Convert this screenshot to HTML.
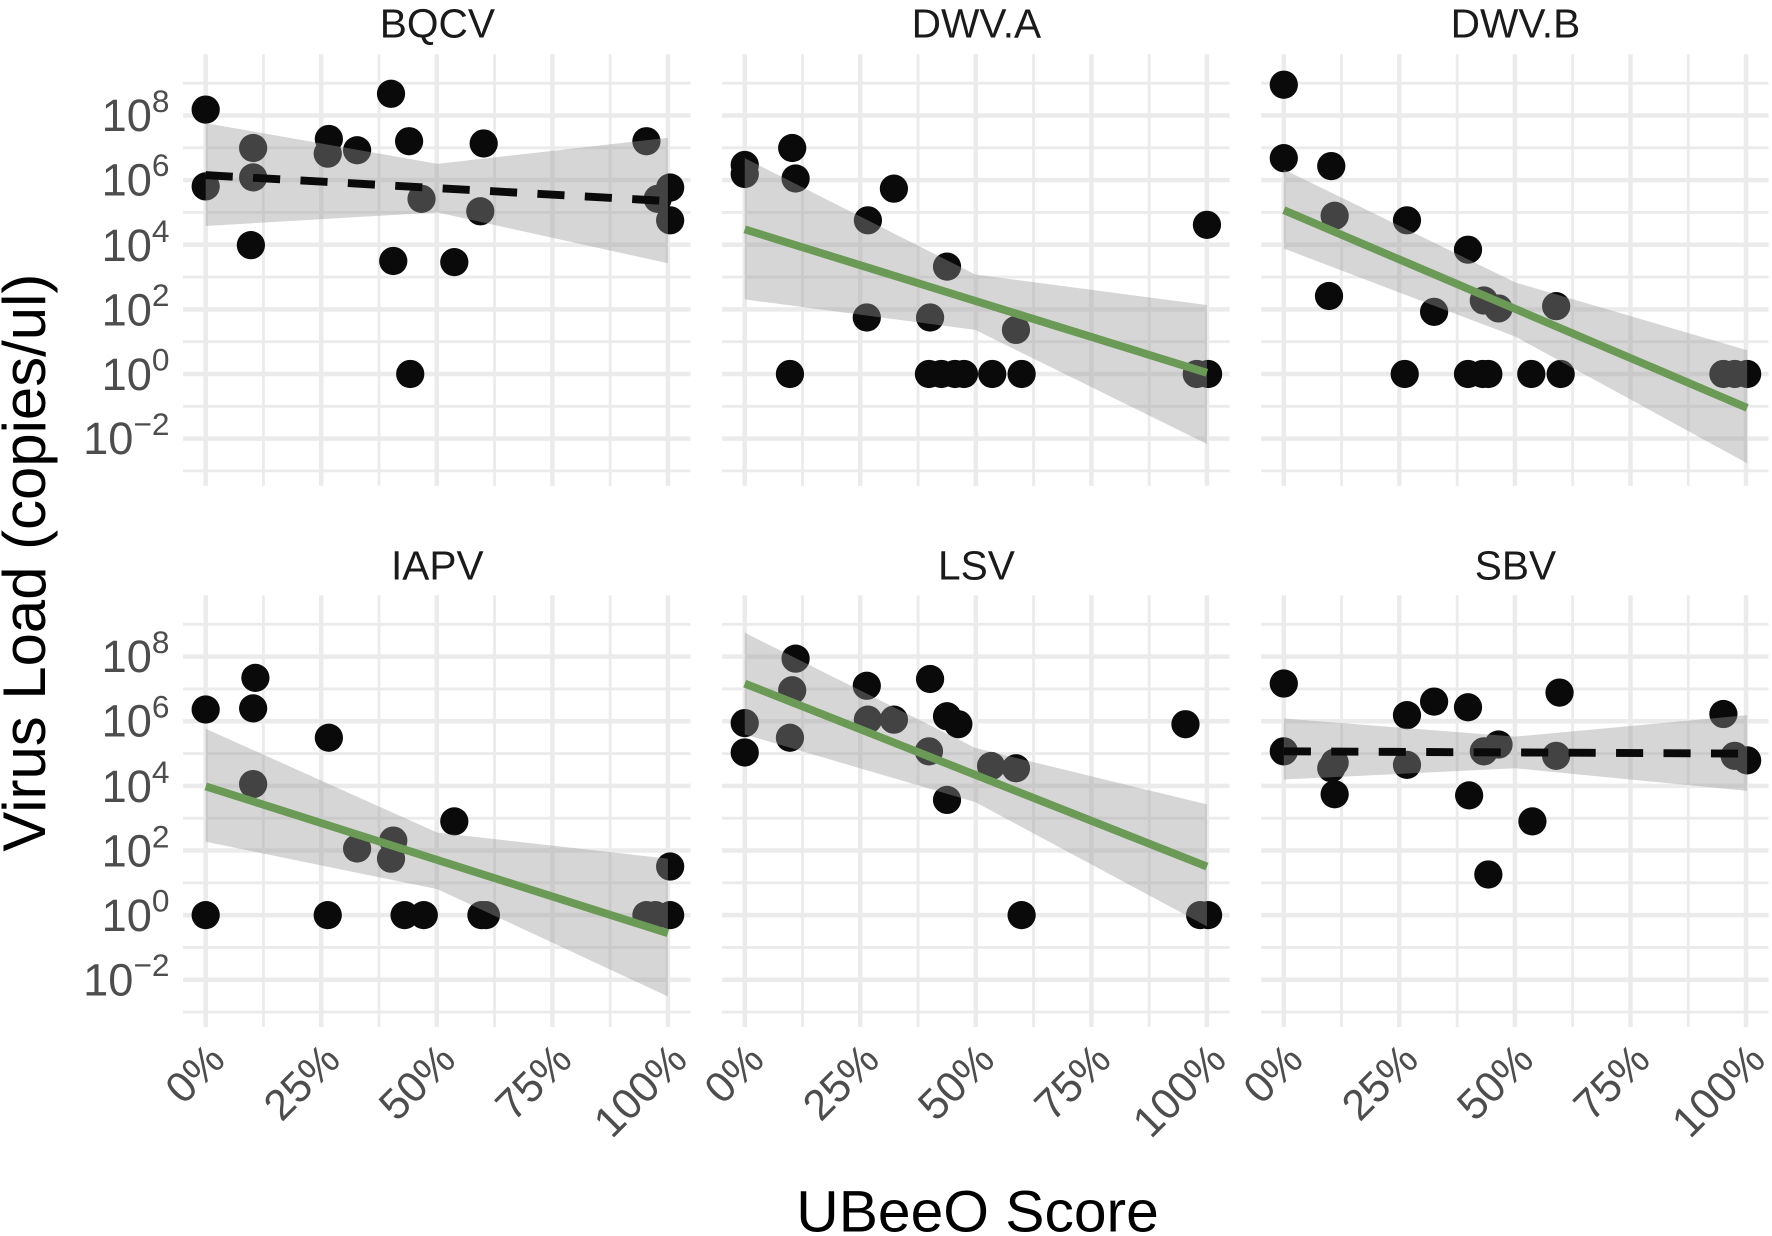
<!DOCTYPE html>
<html><head><meta charset="utf-8"><style>
html,body{margin:0;padding:0;background:#fff;}
svg{display:block;}
text{font-family:"Liberation Sans",Arial,sans-serif;}
</style></head><body>
<svg width="1772" height="1236" viewBox="0 0 1568 1094" preserveAspectRatio="none" xmlns="http://www.w3.org/2000/svg">
<defs>
<g id="grid" stroke="#ebebeb" fill="none">
<g stroke-width="2.5">
<line x1="51.1" y1="-283" x2="51.1" y2="99"/><line x1="153.4" y1="-283" x2="153.4" y2="99"/>
<line x1="255.6" y1="-283" x2="255.6" y2="99"/><line x1="357.9" y1="-283" x2="357.9" y2="99"/>
<line x1="-20" y1="85.8" x2="429" y2="85.8"/><line x1="-20" y1="28.6" x2="429" y2="28.6"/>
<line x1="-20" y1="-28.6" x2="429" y2="-28.6"/><line x1="-20" y1="-85.8" x2="429" y2="-85.8"/>
<line x1="-20" y1="-143" x2="429" y2="-143"/><line x1="-20" y1="-200.2" x2="429" y2="-200.2"/>
<line x1="-20" y1="-257.4" x2="429" y2="-257.4"/>
</g>
<g stroke-width="4">
<line x1="0" y1="-283" x2="0" y2="99"/><line x1="102.2" y1="-283" x2="102.2" y2="99"/>
<line x1="204.5" y1="-283" x2="204.5" y2="99"/><line x1="306.8" y1="-283" x2="306.8" y2="99"/>
<line x1="409" y1="-283" x2="409" y2="99"/>
<line x1="-20" y1="57.2" x2="429" y2="57.2"/><line x1="-20" y1="0" x2="429" y2="0"/>
<line x1="-20" y1="-57.2" x2="429" y2="-57.2"/><line x1="-20" y1="-114.4" x2="429" y2="-114.4"/>
<line x1="-20" y1="-171.6" x2="429" y2="-171.6"/><line x1="-20" y1="-228.8" x2="429" y2="-228.8"/>
</g>
</g>
</defs>

<use href="#grid" x="182" y="331"/><use href="#grid" x="659" y="331"/><use href="#grid" x="1136" y="331"/>
<use href="#grid" x="182" y="810"/><use href="#grid" x="659" y="810"/><use href="#grid" x="1136" y="810"/>

<g font-size="36" fill="#1a1a1a" text-anchor="middle">
<text x="387" y="33">BQCV</text><text x="864" y="33">DWV.A</text><text x="1341" y="33">DWV.B</text>
<text x="387" y="513">IAPV</text><text x="864" y="513">LSV</text><text x="1341" y="513">SBV</text>
</g>

<g font-size="40" fill="#4d4d4d" text-anchor="end">
<text x="150" y="116">10<tspan font-size="28" dy="-17">8</tspan></text>
<text x="150" y="173">10<tspan font-size="28" dy="-17">6</tspan></text>
<text x="150" y="231">10<tspan font-size="28" dy="-17">4</tspan></text>
<text x="150" y="288">10<tspan font-size="28" dy="-17">2</tspan></text>
<text x="150" y="345">10<tspan font-size="28" dy="-17">0</tspan></text>
<text x="150" y="402">10<tspan font-size="28" dy="-17">−2</tspan></text>
<text x="150" y="595">10<tspan font-size="28" dy="-17">8</tspan></text>
<text x="150" y="652">10<tspan font-size="28" dy="-17">6</tspan></text>
<text x="150" y="710">10<tspan font-size="28" dy="-17">4</tspan></text>
<text x="150" y="767">10<tspan font-size="28" dy="-17">2</tspan></text>
<text x="150" y="824">10<tspan font-size="28" dy="-17">0</tspan></text>
<text x="150" y="881">10<tspan font-size="28" dy="-17">−2</tspan></text>
</g>

<g font-size="38" fill="#4d4d4d" text-anchor="end">
<text transform="translate(201,940) rotate(-45)">0%</text>
<text transform="translate(303,940) rotate(-45)">25%</text>
<text transform="translate(405,940) rotate(-45)">50%</text>
<text transform="translate(508,940) rotate(-45)">75%</text>
<text transform="translate(610,940) rotate(-45)">100%</text>
<text transform="translate(678,940) rotate(-45)">0%</text>
<text transform="translate(780,940) rotate(-45)">25%</text>
<text transform="translate(882,940) rotate(-45)">50%</text>
<text transform="translate(985,940) rotate(-45)">75%</text>
<text transform="translate(1087,940) rotate(-45)">100%</text>
<text transform="translate(1155,940) rotate(-45)">0%</text>
<text transform="translate(1257,940) rotate(-45)">25%</text>
<text transform="translate(1359,940) rotate(-45)">50%</text>
<text transform="translate(1462,940) rotate(-45)">75%</text>
<text transform="translate(1564,940) rotate(-45)">100%</text>
</g>

<text x="865" y="1090" font-size="52" fill="#000" text-anchor="middle">UBeeO Score</text>
<text transform="translate(40,498) rotate(-90)" font-size="53" fill="#000" text-anchor="middle">Virus Load (copies/ul)</text>

<g fill="#0a0a0a">
<circle cx="182" cy="97" r="12.5"/><circle cx="182" cy="165" r="12.5"/><circle cx="224" cy="131" r="12.5"/><circle cx="224" cy="157" r="12.5"/><circle cx="222" cy="217" r="12.5"/><circle cx="291" cy="123" r="12.5"/><circle cx="290" cy="136" r="12.5"/><circle cx="316" cy="133" r="12.5"/><circle cx="346" cy="83" r="12.5"/><circle cx="362" cy="125" r="12.5"/><circle cx="348" cy="231" r="12.5"/><circle cx="363" cy="331" r="12.5"/><circle cx="373" cy="176" r="12.5"/><circle cx="402" cy="232" r="12.5"/><circle cx="428" cy="127" r="12.5"/><circle cx="425" cy="187" r="12.5"/><circle cx="572" cy="125" r="12.5"/><circle cx="582" cy="176" r="12.5"/><circle cx="593" cy="166" r="12.5"/><circle cx="593" cy="195" r="12.5"/>
<circle cx="659" cy="146" r="12.5"/><circle cx="659" cy="154" r="12.5"/><circle cx="701" cy="131" r="12.5"/><circle cx="704" cy="158" r="12.5"/><circle cx="699" cy="331" r="12.5"/><circle cx="768" cy="195" r="12.5"/><circle cx="767" cy="281" r="12.5"/><circle cx="791" cy="167" r="12.5"/><circle cx="823" cy="281" r="12.5"/><circle cx="822" cy="331" r="12.5"/><circle cx="838" cy="236" r="12.5"/><circle cx="833" cy="331" r="12.5"/><circle cx="845" cy="331" r="12.5"/><circle cx="853" cy="331" r="12.5"/><circle cx="878" cy="331" r="12.5"/><circle cx="899" cy="292" r="12.5"/><circle cx="904" cy="331" r="12.5"/><circle cx="1059" cy="331" r="12.5"/><circle cx="1069" cy="331" r="12.5"/><circle cx="1068" cy="199" r="12.5"/>
<circle cx="1136" cy="75" r="12.5"/><circle cx="1136" cy="140" r="12.5"/><circle cx="1178" cy="147" r="12.5"/><circle cx="1181" cy="191" r="12.5"/><circle cx="1176" cy="262" r="12.5"/><circle cx="1245" cy="195" r="12.5"/><circle cx="1243" cy="331" r="12.5"/><circle cx="1269" cy="276" r="12.5"/><circle cx="1299" cy="221" r="12.5"/><circle cx="1299" cy="331" r="12.5"/><circle cx="1313" cy="266" r="12.5"/><circle cx="1312" cy="331" r="12.5"/><circle cx="1317" cy="331" r="12.5"/><circle cx="1326" cy="273" r="12.5"/><circle cx="1355" cy="331" r="12.5"/><circle cx="1377" cy="271" r="12.5"/><circle cx="1381" cy="331" r="12.5"/><circle cx="1525" cy="331" r="12.5"/><circle cx="1535" cy="331" r="12.5"/><circle cx="1546" cy="331" r="12.5"/>
<circle cx="182" cy="628" r="12.5"/><circle cx="182" cy="810" r="12.5"/><circle cx="226" cy="600" r="12.5"/><circle cx="224" cy="627" r="12.5"/><circle cx="224" cy="694" r="12.5"/><circle cx="291" cy="653" r="12.5"/><circle cx="290" cy="810" r="12.5"/><circle cx="316" cy="751" r="12.5"/><circle cx="346" cy="760" r="12.5"/><circle cx="348" cy="744" r="12.5"/><circle cx="358" cy="810" r="12.5"/><circle cx="375" cy="810" r="12.5"/><circle cx="402" cy="727" r="12.5"/><circle cx="426" cy="810" r="12.5"/><circle cx="430" cy="810" r="12.5"/><circle cx="572" cy="810" r="12.5"/><circle cx="580" cy="810" r="12.5"/><circle cx="593" cy="767" r="12.5"/><circle cx="593" cy="810" r="12.5"/>
<circle cx="659" cy="640" r="12.5"/><circle cx="659" cy="666" r="12.5"/><circle cx="704" cy="583" r="12.5"/><circle cx="701" cy="611" r="12.5"/><circle cx="699" cy="653" r="12.5"/><circle cx="767" cy="607" r="12.5"/><circle cx="768" cy="637" r="12.5"/><circle cx="791" cy="637" r="12.5"/><circle cx="823" cy="601" r="12.5"/><circle cx="822" cy="665" r="12.5"/><circle cx="838" cy="708" r="12.5"/><circle cx="838" cy="634" r="12.5"/><circle cx="848" cy="641" r="12.5"/><circle cx="877" cy="678" r="12.5"/><circle cx="899" cy="680" r="12.5"/><circle cx="904" cy="810" r="12.5"/><circle cx="1049" cy="641" r="12.5"/><circle cx="1062" cy="810" r="12.5"/><circle cx="1069" cy="810" r="12.5"/>
<circle cx="1136" cy="605" r="12.5"/><circle cx="1136" cy="665" r="12.5"/><circle cx="1178" cy="680" r="12.5"/><circle cx="1181" cy="703" r="12.5"/><circle cx="1181" cy="675" r="12.5"/><circle cx="1245" cy="633" r="12.5"/><circle cx="1245" cy="677" r="12.5"/><circle cx="1269" cy="621" r="12.5"/><circle cx="1299" cy="626" r="12.5"/><circle cx="1300" cy="704" r="12.5"/><circle cx="1313" cy="665" r="12.5"/><circle cx="1317" cy="774" r="12.5"/><circle cx="1326" cy="659" r="12.5"/><circle cx="1356" cy="727" r="12.5"/><circle cx="1380" cy="613" r="12.5"/><circle cx="1377" cy="669" r="12.5"/><circle cx="1525" cy="632" r="12.5"/><circle cx="1535" cy="669" r="12.5"/><circle cx="1546" cy="673" r="12.5"/>
</g>

<g fill="#999999" fill-opacity="0.4">
<polygon points="182,109 387,145 591,122 591,233 387,188 182,200"/>
<polygon points="659,140 863,243 1068,270 1068,393 863,292 659,265"/>
<polygon points="1136,150 1341,250 1546,310 1546,410 1341,298 1136,220"/>
<polygon points="182,645 387,737 591,760 591,882 387,787 182,745"/>
<polygon points="659,560 863,662 1068,712 1068,820 863,710 659,650"/>
<polygon points="1136,636 1341,652 1546,633 1546,700 1341,680 1136,690"/>
</g>

<g stroke-width="7" fill="none">
<line x1="182" y1="155" x2="591" y2="178" stroke="#0a0a0a" stroke-dasharray="24,18"/>
<line x1="1136" y1="665" x2="1546" y2="667" stroke="#0a0a0a" stroke-dasharray="24,18"/>
<line x1="659" y1="203" x2="1068" y2="330" stroke="#6a9a55"/>
<line x1="1136" y1="186" x2="1546" y2="361" stroke="#6a9a55"/>
<line x1="182" y1="696" x2="591" y2="826" stroke="#6a9a55"/>
<line x1="659" y1="605" x2="1068" y2="767" stroke="#6a9a55"/>
</g>
</svg>
</body></html>
